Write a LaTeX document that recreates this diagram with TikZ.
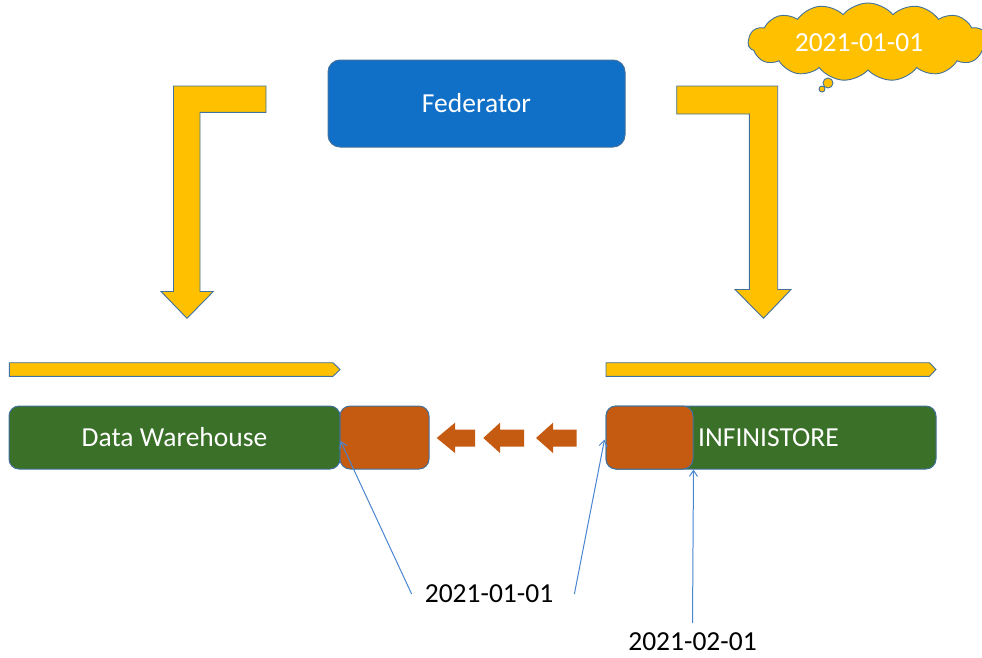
\documentclass[tikz,border=0pt]{standalone}
\usepackage{fontspec}
\setmainfont{Carlito}
\usetikzlibrary{shapes.symbols,arrows.meta}
\definecolor{gold}{RGB}{255,192,0}
\definecolor{edge}{RGB}{65,113,156}
\definecolor{fedblue}{RGB}{16,111,198}
\definecolor{dwgreen}{RGB}{58,112,40}
\definecolor{rust}{RGB}{197,90,17}
\definecolor{pointer}{RGB}{74,134,207}

\begin{document}
\begin{tikzpicture}[x=1pt,y=-1pt,
  every node/.style={font=\fontsize{27.5}{33}\selectfont},
  block/.style={draw=edge, line width=1pt, rounded corners=10pt, inner sep=0pt},
  goldshape/.style={fill=gold, draw=edge, line width=0.9pt, line join=miter},
  rustarrow/.style={fill=rust, draw=none},
  pointerline/.style={draw=pointer, line width=1pt, -{Straight Barb[length=6pt,width=8pt]}}]
\useasboundingbox (0,0) rectangle (982,657);

% federator
\node[block, fill=fedblue, text=white, minimum width=297pt, minimum height=87pt,
      rounded corners=12pt] (fed) at (476.5,103.5) {Federator};

% bent feed arrows
\path[goldshape] (266,86) -- (173.5,86) -- (173.5,291.5) -- (161,291.5)
  -- (187,318.3) -- (213.3,291.5) -- (200,291.5) -- (200,112.3) -- (266,112.3) -- cycle;
\path[goldshape] (676.7,86) -- (777.7,86) -- (777.7,289.5) -- (791,289.5)
  -- (763.5,318.3) -- (735,289.5) -- (749.3,289.5) -- (749.3,114) -- (676.7,114) -- cycle;

% timeline bars
\path[goldshape] (9.3,362.7) -- (333,362.7) -- (340,369.5) -- (333,376.3) -- (9.3,376.3) -- cycle;
\path[goldshape] (606,362.7) -- (929.5,362.7) -- (936,369.5) -- (929.5,376.3) -- (606,376.3) -- cycle;

% stores
\node[block, fill=dwgreen, text=white, minimum width=331pt, minimum height=63pt]
  (dw) at (174.5,437.5) {Data Warehouse};
\node[block, fill=rust, minimum width=89pt, minimum height=63pt] (dwnew) at (384.5,437.5) {};
\node[block, fill=dwgreen, minimum width=330pt, minimum height=63pt] (inf) at (771,437.5) {};
\node[block, fill=rust, minimum width=87pt, minimum height=63pt] (infold) at (649.5,437.5) {};
\node[text=white, anchor=west, inner sep=0pt] (inflabel) at (698,438) {INFINISTORE};

% migration arrows
\foreach \t/\h/\r in {436.7/455/475, 483.3/500/524, 536/553/576.7}
  \path[rustarrow] (\t,438) -- (\h,422.7) -- (\h,429.5) -- (\r,429.5) -- (\r,446.5)
    -- (\h,446.5) -- (\h,453) -- cycle;

% thought cloud
\node[cloud, cloud puffs=15, cloud puff arc=100, aspect=3.1, fill=gold, draw=edge,
      line width=0.9pt, minimum width=240pt, minimum height=78pt, inner sep=0pt]
  (note) at (868,42) {};
\node[text=white, inner sep=0pt] (notetext) at (859,43) {2021-01-01};
\node[circle, goldshape, minimum size=6pt, inner sep=0pt] (bubA) at (822,89) {};
\node[circle, goldshape, minimum size=10pt, inner sep=0pt] (bubB) at (828,83) {};

% dates
\node[inner xsep=13pt] (d1) at (489,594) {2021-01-01};
\node (d2) at (692.5,641.7) {2021-02-01};

\draw[pointerline] (d1.west) -- ([yshift=-3.5pt]dw.east);
\draw[pointerline] ([xshift=8pt]d1.east) -- ([xshift=-1pt,yshift=-2pt]infold.west);
\draw[pointerline] ([yshift=6pt]d2.north) -- (infold.south east);
\end{tikzpicture}
\end{document}
